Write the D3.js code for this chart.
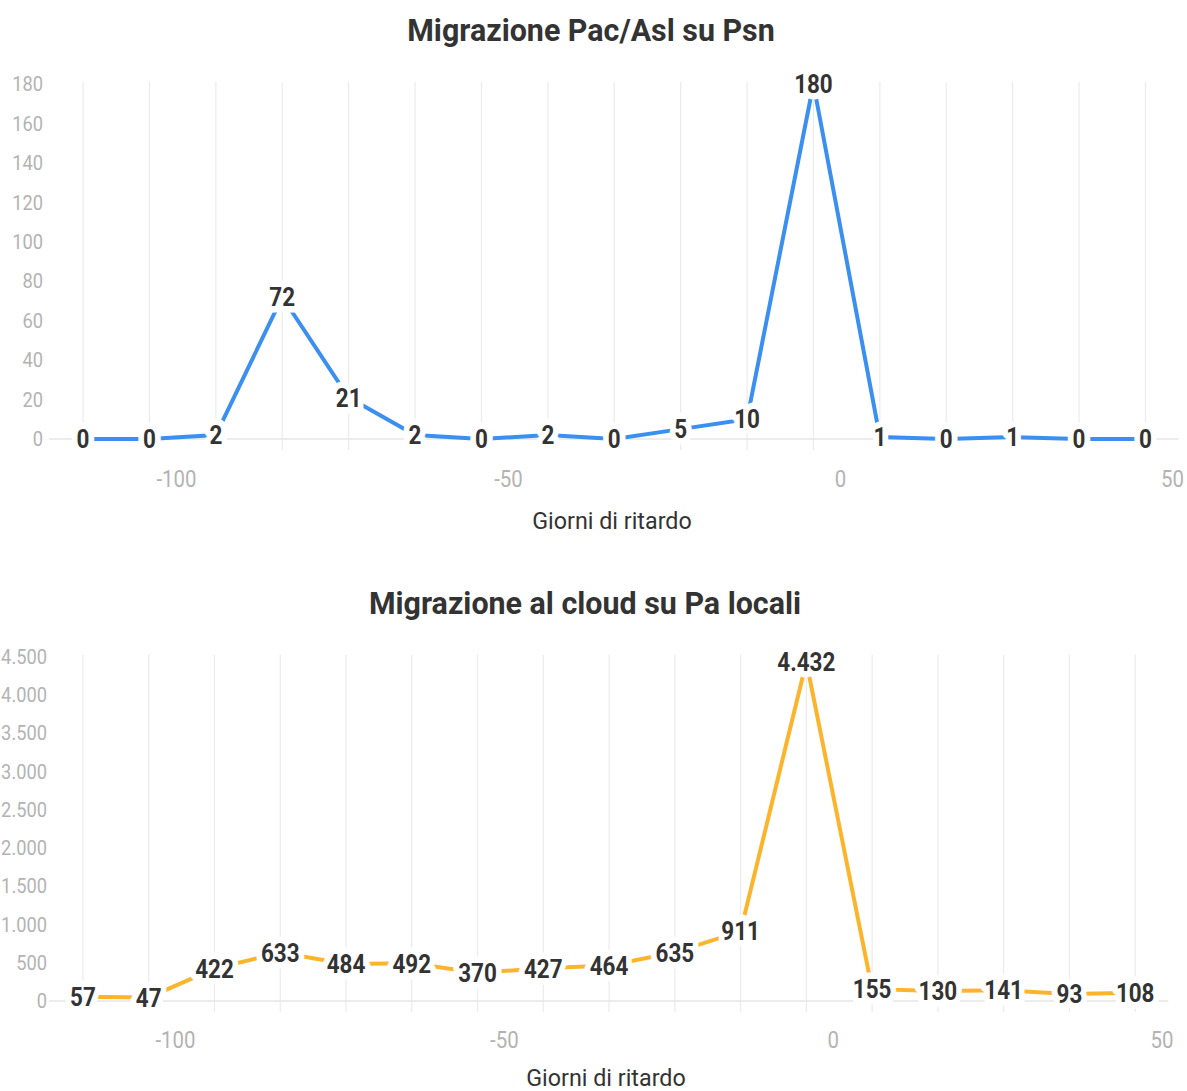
<!DOCTYPE html>
<html>
<head>
<meta charset="utf-8">
<script src="https://cdn.jsdelivr.net/npm/d3@7"></script>
<style>
  html, body { margin: 0; padding: 0; background: #fff; }
  svg { display: block; font-family: Roboto, "Noto Sans", sans-serif; }
</style>
</head>
<body>
<svg id="chart" width="1187" height="1091"></svg>
<script>
// ---- data ----
const xDays = [-114, -104, -94, -84, -74, -64, -54, -44, -34, -24, -14, -4, 6, 16, 26, 36, 46];
const pacAslValues = [0, 0, 2, 72, 21, 2, 0, 2, 0, 5, 10, 180, 1, 0, 1, 0, 0];
const cloudValues = [57, 47, 422, 633, 484, 492, 370, 427, 464, 635, 911, 4432, 155, 130, 141, 93, 108];
const xTickValues = [-100, -50, 0, 50];
const pacAslYTicks = [0, 20, 40, 60, 80, 100, 120, 140, 160, 180];
const cloudYTicks = [0, 500, 1000, 1500, 2000, 2500, 3000, 3500, 4000, 4500];
const titles = ["Migrazione Pac/Asl su Psn", "Migrazione al cloud su Pa locali"];
const xAxisTitle = "Giorni di ritardo";

const it = d3.formatLocale({decimal: ",", thousands: ".", grouping: [3], currency: ["€", ""], minus: "-"});
const fmt = it.format(",d");

const svg = d3.select("#chart");

// narrow glyphs horizontally to mimic a condensed face
function condense(sel, f) {
  sel.each(function () {
    const w = this.getComputedTextLength();
    this.setAttribute("textLength", w * f);
    this.setAttribute("lengthAdjust", "spacingAndGlyphs");
  });
}

function drawChart(cfg) {
  const g = svg.append("g");
  const x = d3.scaleLinear().domain([-100, 50]).range(cfg.xRange);
  const y = d3.scaleLinear().domain(cfg.yDomain).range(cfg.yRange);
  const y0 = y(0), yTop = y(cfg.yDomain[1]);

  // title
  g.append("text")
    .attr("x", cfg.titleX).attr("y", cfg.titleY).attr("dy", "0.35em")
    .attr("text-anchor", "middle")
    .attr("font-size", 32).attr("font-weight", 700).attr("fill", "#333")
    .text(cfg.title)
    .call(condense, 0.95);

  // vertical gridlines at data positions
  g.append("g").selectAll("line").data(xDays).join("line")
    .attr("x1", d => x(d)).attr("x2", d => x(d))
    .attr("y1", yTop - 2).attr("y2", y0 + 11)
    .attr("stroke", "#ebebeb").attr("stroke-width", 1.2);

  // baseline
  g.append("line")
    .attr("x1", x(xDays[0]) - 34).attr("x2", x(xDays[xDays.length - 1]) + 33)
    .attr("y1", y0).attr("y2", y0)
    .attr("stroke", "#e6e6e6").attr("stroke-width", 1.5);

  // y axis
  const yAxis = d3.axisLeft(y).tickValues(cfg.yTicks).tickSize(0).tickPadding(0).tickFormat(fmt);
  const ya = g.append("g").attr("transform", `translate(${cfg.yLabelX},0)`).call(yAxis);
  ya.select(".domain").remove();
  ya.selectAll("text").attr("font-size", 21).attr("fill", "#b3b3b3").attr("font-family", "Roboto")
    .call(condense, 0.87);

  // x axis
  const xAxis = d3.axisBottom(x).tickValues(xTickValues).tickSize(0).tickPadding(0).tickFormat(fmt);
  const xa = g.append("g").attr("transform", `translate(0,${cfg.xTickY})`).call(xAxis);
  xa.select(".domain").remove();
  xa.selectAll("text").attr("font-size", 24).attr("fill", "#b3b3b3").attr("dy", "0.35em").attr("font-family", "Roboto")
    .call(condense, 0.85);

  // x axis title
  g.append("text")
    .attr("x", cfg.xTitleX).attr("y", cfg.xTitleY).attr("dy", "0.35em")
    .attr("text-anchor", "middle").attr("font-size", 24).attr("fill", "#333")
    .text(xAxisTitle)
    .call(condense, 0.97);

  // line
  const pts = xDays.map((d, i) => [d, cfg.values[i]]);
  g.append("path")
    .datum(pts)
    .attr("fill", "none").attr("stroke", cfg.color).attr("stroke-width", 4)
    .attr("stroke-linejoin", "miter")
    .attr("d", d3.line().x(d => x(d[0])).y(d => y(d[1])));

  // labels with white halo
  g.append("g").selectAll("text").data(pts).join("text")
    .attr("x", d => x(d[0])).attr("y", d => y(d[1])).attr("dy", "0.36em")
    .attr("text-anchor", "middle")
    .attr("font-size", 25.5).attr("font-weight", 700).attr("fill", "#333")
    .attr("stroke", "#fff").attr("stroke-width", 13).attr("stroke-linejoin", "round")
    .attr("paint-order", "stroke")
    .text(d => fmt(d[1]))
    .call(condense, 0.88);
}

drawChart({
  title: titles[0], titleX: 591, titleY: 30,
  values: pacAslValues, color: "#3a8ff0",
  xRange: [176, 1172],
  yDomain: [0, 180], yRange: [439, 84], yTicks: pacAslYTicks, yLabelX: 43,
  xTickY: 479, xTitleX: 612, xTitleY: 521
});

drawChart({
  title: titles[1], titleX: 585, titleY: 603,
  values: cloudValues, color: "#fbb42c",
  xRange: [175, 1161.5],
  yDomain: [0, 4500], yRange: [1001, 656.7], yTicks: cloudYTicks, yLabelX: 47,
  xTickY: 1040, xTitleX: 606, xTitleY: 1078
});
</script>
</body>
</html>
